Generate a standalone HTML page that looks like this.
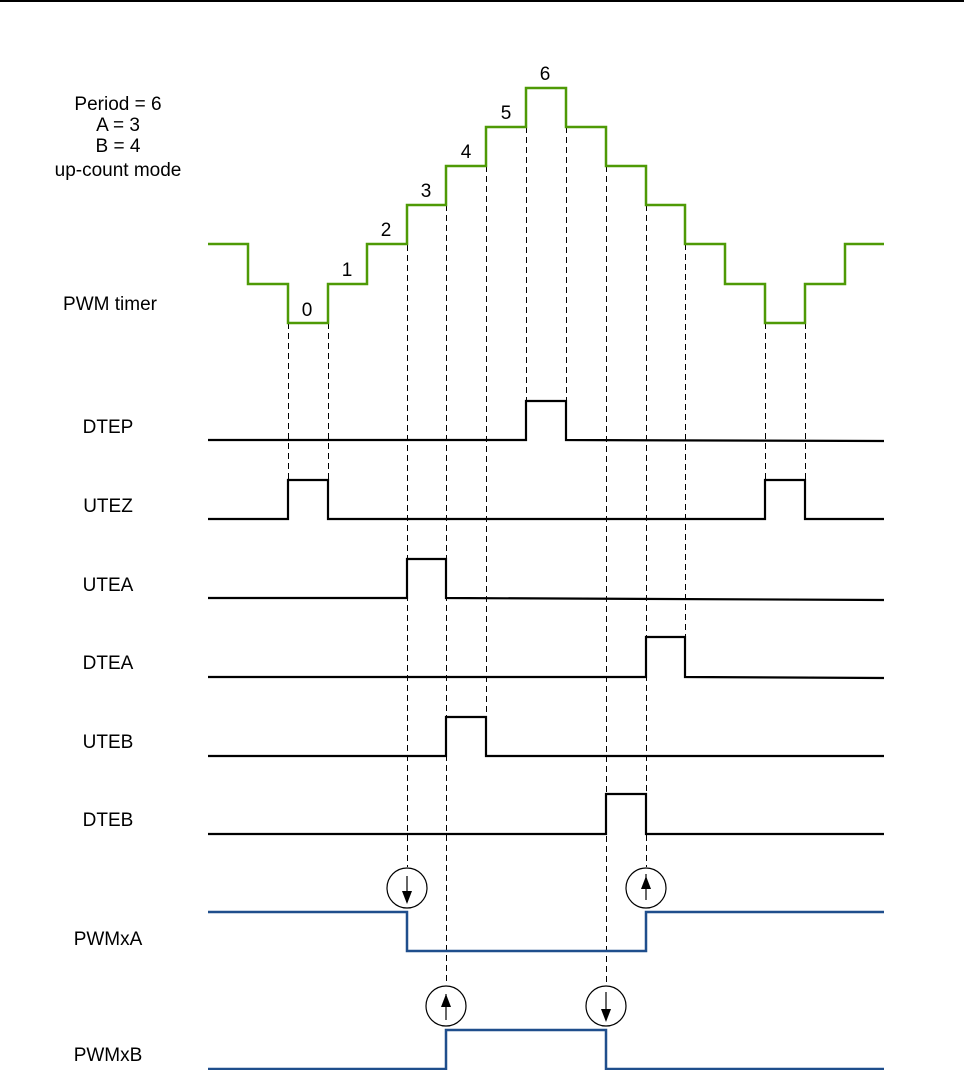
<!DOCTYPE html>
<html><head><style>html,body{margin:0;padding:0;background:#fff}svg{display:block}</style></head><body>
<svg width="964" height="1070" xmlns="http://www.w3.org/2000/svg" font-family="Liberation Sans, sans-serif" font-size="19">
<line x1="0" y1="1" x2="964" y2="1" stroke="#000" stroke-width="2"/>
<g text-anchor="middle" fill="#000">
<text x="118" y="110">Period = 6</text>
<text x="118" y="131">A = 3</text>
<text x="118" y="152">B = 4</text>
<text x="118" y="176">up-count mode</text>
<text x="110" y="310">PWM timer</text>
<text x="108" y="433">DTEP</text>
<text x="108" y="512">UTEZ</text>
<text x="108" y="591">UTEA</text>
<text x="108" y="669">DTEA</text>
<text x="108" y="748">UTEB</text>
<text x="108" y="826">DTEB</text>
<text x="108" y="945">PWMxA</text>
<text x="108" y="1061">PWMxB</text>
<text x="307" y="316">0</text>
<text x="347" y="276">1</text>
<text x="386" y="236">2</text>
<text x="426" y="197">3</text>
<text x="466" y="158">4</text>
<text x="506" y="119">5</text>
<text x="545" y="80">6</text>
</g>
<g stroke="#000" stroke-width="1" stroke-dasharray="6,4" fill="none" shape-rendering="crispEdges">
<line x1="288.5" y1="323" x2="288.5" y2="480"/>
<line x1="328.5" y1="323" x2="328.5" y2="480"/>
<line x1="765.5" y1="323" x2="765.5" y2="480"/>
<line x1="805.5" y1="323" x2="805.5" y2="480"/>
<line x1="407.5" y1="205" x2="407.5" y2="867"/>
<line x1="446.5" y1="205" x2="446.5" y2="985"/>
<line x1="486.5" y1="166" x2="486.5" y2="717"/>
<line x1="526.5" y1="127" x2="526.5" y2="401"/>
<line x1="566.5" y1="127" x2="566.5" y2="401"/>
<line x1="606.5" y1="166" x2="606.5" y2="985"/>
<line x1="646.5" y1="205" x2="646.5" y2="867"/>
<line x1="685.5" y1="244" x2="685.5" y2="637"/>
</g>
<polyline fill="none" stroke="#4e9a06" stroke-width="2.5" points="208,244 248,244 248,284 288,284 288,323 328,323 328,284 367,284 367,244 407,244 407,205 446,205 446,166 486,166 486,127 526,127 526,88 566,88 566,127 606,127 606,166 646,166 646,205 685,205 685,244 725,244 725,284 765,284 765,323 805,323 805,284 845,284 845,244 884,244"/>
<g fill="none" stroke="#000" stroke-width="2.2">
<polyline points="208,440 526,440 526,401 566,401 566,440 884,441"/>
<polyline points="208,519 288,519 288,480 328,480 328,519 765,519 765,480 805,480 805,519 884,519"/>
<polyline points="208,598 407,598 407,559 446,559 446,598 884,600"/>
<polyline points="208,677 646,677 646,637 685,637 685,677 884,678"/>
<polyline points="208,756 446,756 446,717 486,717 486,756 884,756"/>
<polyline points="208,834 606,834 606,794 646,794 646,834 884,834"/>
</g>
<g fill="none" stroke="#1f4e8c" stroke-width="2.5">
<polyline points="208,912 407,912 407,951 646,951 646,912 884,912"/>
<polyline points="208,1069 446,1069 446,1030 606,1030 606,1069 884,1069"/>
</g>
<g fill="none" stroke="#000" stroke-width="1.2">
<circle cx="407" cy="888" r="20"/><circle cx="646" cy="888" r="20"/>
<circle cx="446" cy="1006" r="20"/><circle cx="606" cy="1006" r="20"/>
<line x1="407" y1="876" x2="407" y2="902"/><line x1="646" y1="874" x2="646" y2="900"/>
<line x1="446" y1="994" x2="446" y2="1020"/><line x1="606" y1="992" x2="606" y2="1018"/>
</g>
<g fill="#000">
<polygon points="402,891 412,891 407,904"/>
<polygon points="641,889 651,889 646,876"/>
<polygon points="441,1007 451,1007 446,994"/>
<polygon points="601,1009 611,1009 606,1022"/>
</g>
</svg>
</body></html>
